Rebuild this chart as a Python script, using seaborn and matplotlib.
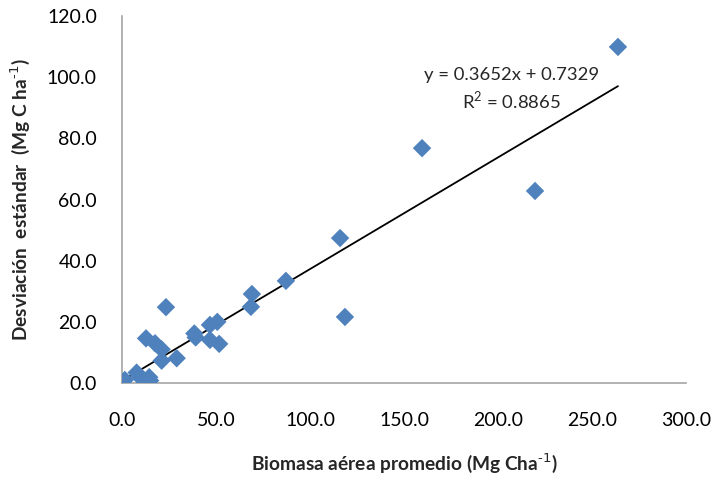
import numpy as np
import pandas as pd
import matplotlib
matplotlib.use("Agg")
import matplotlib.pyplot as plt
import seaborn as sns

# Mean above-ground biomass vs. its standard deviation (Mg C ha-1)
biomasa = [1.5, 7.8, 9.6, 14.5, 15.0, 12.8, 17.6, 21.1, 21.1, 23.4, 29.1,
           38.5, 39.2, 46.8, 50.7, 46.8, 51.7, 68.6, 69.1, 87.2, 116.0,
           118.6, 159.6, 219.7, 263.8]
desviacion = [1.0, 3.4, 1.9, 1.9, 0.8, 14.6, 13.0, 11.0, 7.3, 24.8, 8.1,
              16.2, 14.9, 19.0, 20.0, 14.1, 12.8, 24.9, 29.1, 33.4, 47.4,
              21.6, 76.8, 62.8, 109.9]

# Linear trend reported on the chart
pendiente = 0.3652
intercepto = 0.7329
r2 = 0.8865

x_ticks = [0, 50, 100, 150, 200, 250, 300]
y_ticks = [0, 20, 40, 60, 80, 100, 120]

sns.set_style("white")
plt.rcParams["font.family"] = ["Lato", "DejaVu Sans"]

df = pd.DataFrame({"biomasa": biomasa, "desviacion": desviacion})
x_lin = np.array([min(biomasa), max(biomasa)])
df_lin = pd.DataFrame({"x": x_lin, "y": pendiente * x_lin + intercepto})

fig = plt.figure(figsize=(7.12, 4.86), dpi=100)
ax = fig.add_axes([0.1713, 0.2119, 0.7922, 0.7551])

sns.scatterplot(data=df, x="biomasa", y="desviacion", marker="D", s=88,
                color="#4F81BD", edgecolor="none", ax=ax, zorder=3)
sns.lineplot(data=df_lin, x="x", y="y", color="black", linewidth=1.3,
             ax=ax, zorder=2)

ax.set_xlim(0, 300)
ax.set_ylim(0, 120)
ax.set_xticks(x_ticks)
ax.set_yticks(y_ticks)
ax.set_xticklabels([f"{v:.1f}" for v in x_ticks])
ax.set_yticklabels([f"{v:.1f}" for v in y_ticks])

for side in ["top", "right"]:
    ax.spines[side].set_visible(False)
for side in ["left", "bottom"]:
    ax.spines[side].set_color("#A6A6A6")
    ax.spines[side].set_linewidth(1.2)

ax.tick_params(axis="both", which="major", direction="out", length=5,
               width=1.2, color="#A6A6A6", labelsize=14, labelcolor="black")
ax.tick_params(axis="y", pad=13)
ax.tick_params(axis="x", pad=16)

ax.set_xlabel("Biomasa aérea promedio (Mg Cha$^{\\text{-1}}$)",
              fontsize=13.8, fontweight="bold", labelpad=16)
ax.set_ylabel("Desviación  estándar  (Mg C ha$^{\\text{-1}}$)",
              fontsize=13.8, fontweight="bold", labelpad=11)

ax.text(207, 100.7, f"y = {pendiente}x + {intercepto}", ha="center",
        va="center", fontsize=13.3)
ax.text(207, 92.6, f"R$^{{\\mathregular{{2}}}}$ = {r2}", ha="center",
        va="center", fontsize=13.3)

fig.savefig("out.png", dpi=100)
